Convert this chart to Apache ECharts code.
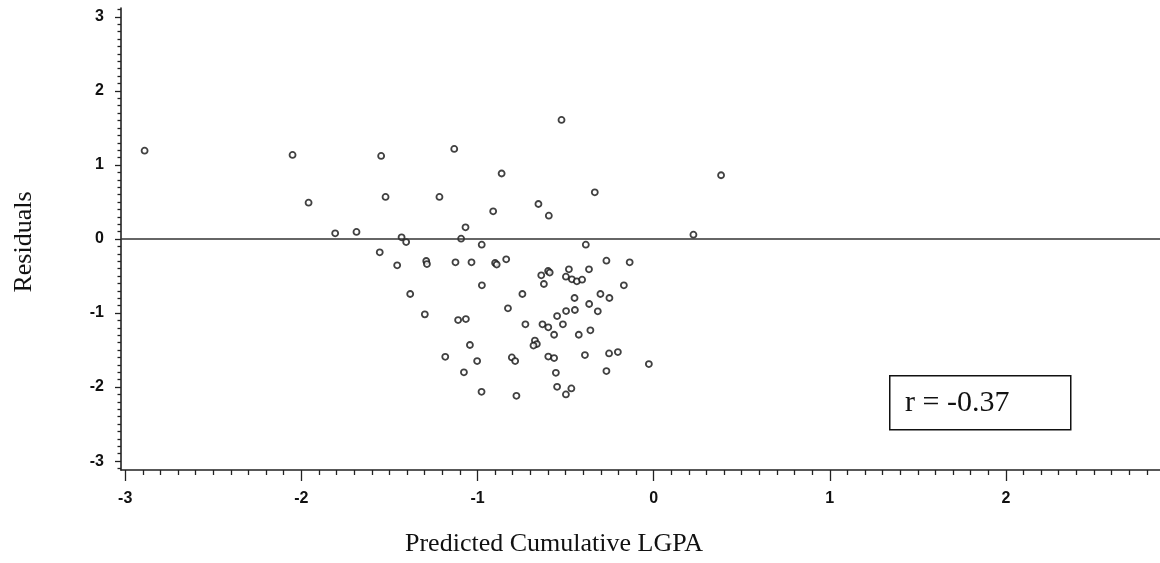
<!DOCTYPE html>
<html>
<head>
<meta charset="utf-8">
<script src="https://cdn.jsdelivr.net/npm/echarts@6/dist/echarts.min.js"></script>
<style>
html,body{margin:0;padding:0;background:#fff;}
#chart{width:1160px;height:563px;}
</style>
</head>
<body>
<div id="chart"></div>
<script>
// Major tick values
const xTicks = [-3, -2, -1, 0, 1, 2];
const yTicks = [-3, -2, -1, 0, 1, 2, 3];

// Predicted Cumulative LGPA (x) and Residuals (y)
const predicted = [
  -2.890, -2.050, -1.959, -1.547, -1.522, -1.808, -1.687, -1.132, -1.216, -0.911,
  -1.068, -1.093, -0.976, -1.555, -1.431, -1.405, -1.456, -1.291, -1.287, -1.125,
  -1.034, -0.900, -0.891, -0.975, -1.382, -0.863, -0.523, 0.383, -0.334, -0.654,
  -0.595, -0.385, 0.226, -0.837, -0.599, -0.590, -0.638, -0.481, -0.367, -0.268,
  -0.136, -0.623, -0.498, -0.464, -0.436, -0.406, -0.169, -0.745, -0.302, -0.251,
  -0.449, -0.827, -1.299, -1.110, -1.066, -0.728, -0.631, -0.598, -0.674, -0.663,
  -0.682, -1.043, -1.183, -1.002, -0.805, -0.786, -0.598, -1.077, -0.977, -0.779,
  -0.366, -0.497, -0.447, -0.317, -0.548, -0.515, -0.565, -0.425, -0.359, -0.565,
  -0.390, -0.253, -0.203, -0.027, -0.555, -0.268, -0.548, -0.467, -0.498
];
const residuals = [
  1.193, 1.135, 0.491, 1.122, 0.568, 0.077, 0.095, 1.216, 0.568, 0.374,
  0.158, 0.004, -0.077, -0.180, 0.023, -0.041, -0.355, -0.297, -0.338, -0.315,
  -0.315, -0.324, -0.345, -0.626, -0.743, 0.885, 1.608, 0.861, 0.631, 0.473,
  0.315, -0.077, 0.058, -0.274, -0.432, -0.453, -0.491, -0.409, -0.409, -0.293,
  -0.315, -0.608, -0.509, -0.545, -0.572, -0.550, -0.626, -0.743, -0.743, -0.797,
  -0.797, -0.936, -1.018, -1.095, -1.081, -1.153, -1.153, -1.193, -1.372, -1.419,
  -1.439, -1.432, -1.591, -1.649, -1.599, -1.649, -1.588, -1.801, -2.064, -2.118,
  -0.878, -0.973, -0.959, -0.977, -1.041, -1.153, -1.293, -1.293, -1.234, -1.608,
  -1.568, -1.545, -1.527, -1.689, -1.807, -1.784, -1.996, -2.018, -2.099
];

const rLabel = 'r = -0.37';
const xTitle = 'Predicted Cumulative LGPA';
const yTitle = 'Residuals';

function minorTicks(majors) {
  const out = [];
  for (let i = 0; i < majors.length; i++) {
    for (let k = -9; k <= 9; k++) {
      if (k === 0) continue;
      const v = Math.round((majors[i] + k / 10) * 10) / 10;
      if (majors.indexOf(v) < 0 && out.indexOf(v) < 0) out.push(v);
    }
  }
  return out;
}

const points = predicted.map((x, i) => [x, residuals[i]]);

const XMIN = -3.024, XMAX = 2.875, YMIN = -3.12, YMAX = 3.12;
const tickFont = { fontFamily: '"Liberation Sans Narrow", "Arial Narrow", "Liberation Sans", sans-serif', fontWeight: 'bold', fontSize: 16, color: '#111' };
const axisLineStyle = { color: '#222', width: 1.6 };

const chart = echarts.init(document.getElementById('chart'), null, { renderer: 'canvas' });
chart.setOption({
  animation: false,
  backgroundColor: '#fff',
  grid: { left: 121, right: 0, top: 8, bottom: 93, containLabel: false },
  xAxis: [
    {
      type: 'value', min: XMIN, max: XMAX, position: 'bottom',
      axisLine: { show: true, onZero: false, lineStyle: axisLineStyle },
      axisTick: { show: true, inside: false, length: 11, customValues: xTicks, lineStyle: { color: '#222', width: 1.3 } },
      axisLabel: Object.assign({ show: true, margin: 21, customValues: xTicks, formatter: v => String(v) }, tickFont),
      splitLine: { show: false }
    },
    {
      type: 'value', min: XMIN, max: XMAX, position: 'bottom',
      axisLine: { show: false, onZero: false },
      axisTick: { show: true, inside: false, length: 5, customValues: minorTicks(xTicks).filter(v => v > XMIN && v < XMAX), lineStyle: { color: '#222', width: 1.3 } },
      axisLabel: { show: false },
      splitLine: { show: false }
    }
  ],
  yAxis: [
    {
      type: 'value', min: YMIN, max: YMAX, position: 'left',
      axisLine: { show: true, onZero: false, lineStyle: axisLineStyle },
      axisTick: { show: true, inside: false, length: 6, customValues: yTicks, lineStyle: { color: '#222', width: 1.3 } },
      axisLabel: Object.assign({ show: true, margin: 17, customValues: yTicks, formatter: v => String(v) }, tickFont),
      splitLine: { show: false }
    },
    {
      type: 'value', min: YMIN, max: YMAX, position: 'left',
      axisLine: { show: false, onZero: false },
      axisTick: { show: true, inside: false, length: 3.5, customValues: minorTicks(yTicks).filter(v => v > YMIN && v < YMAX), lineStyle: { color: '#222', width: 1.3 } },
      axisLabel: { show: false },
      splitLine: { show: false }
    }
  ],
  series: [
    {
      type: 'scatter',
      xAxisIndex: 0, yAxisIndex: 0,
      data: points,
      symbol: 'circle',
      symbolSize: 6,
      itemStyle: { color: '#fff', borderColor: '#111', borderWidth: 1.8 },
      markLine: {
        silent: true,
        symbol: ['none', 'none'],
        label: { show: false },
        lineStyle: { color: '#333', width: 1.5, type: 'solid' },
        data: [{ yAxis: 0 }]
      },
      z: 3
    }
  ],
  graphic: [
    {
      type: 'rect', left: 889, top: 375,
      shape: { x: 0, y: 0, width: 181, height: 54 },
      style: { fill: '#fff', stroke: '#111', lineWidth: 1.5 },
      z: 10
    },
    {
      type: 'text', x: 905, y: 403,
      style: { text: rLabel, font: '30px "Liberation Serif", "Times New Roman", serif', fill: '#111', textAlign: 'left', textVerticalAlign: 'middle' },
      z: 11
    },
    {
      type: 'text', x: 405, y: 544,
      style: { text: xTitle, font: '26px "Liberation Serif", "Times New Roman", serif', fill: '#111', textAlign: 'left', textVerticalAlign: 'middle' },
      z: 11
    },
    {
      type: 'text', x: 24, y: 242, rotation: Math.PI / 2,
      style: { text: yTitle, font: '26px "Liberation Serif", "Times New Roman", serif', fill: '#111', textAlign: 'center', textVerticalAlign: 'middle' },
      z: 11
    }
  ]
});
</script>
</body>
</html>
